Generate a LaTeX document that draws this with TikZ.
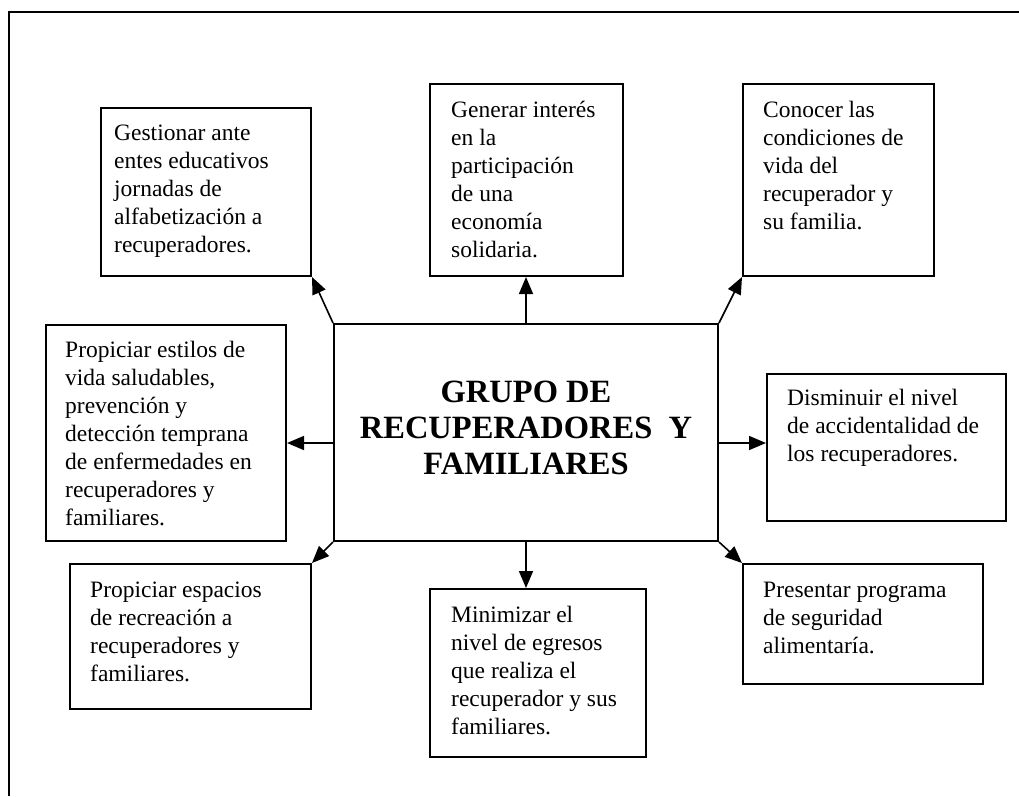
\documentclass[tikz,border=0pt]{standalone}
\usepackage{fontspec}
\setmainfont{Liberation Serif}
\usetikzlibrary{arrows.meta}
\begin{document}
\begin{tikzpicture}[x=1pt,y=-1pt,
  boxnode/.style={draw=black, line width=2pt, rectangle, inner sep=0pt, anchor=north west},
  txtnode/.style={anchor=north west, inner sep=0pt, align=left, font=\fontsize{23.5pt}{28pt}\selectfont},
  titlenode/.style={inner sep=0pt, align=center, font=\fontsize{32.5pt}{36pt}\selectfont\bfseries},
  conn/.style={line width=1.6pt, -{Triangle[length=17pt,width=14pt]}}
]
\useasboundingbox (0,0) rectangle (1019,796);
\draw[line width=2.2pt] (9,796) -- (9,12) -- (1019,12);

% boxes
\node[boxnode, minimum width=210pt, minimum height=168pt] (g) at (100,107) {};
\node[boxnode, minimum width=193pt, minimum height=192pt] (gen) at (429,83) {};
\node[boxnode, minimum width=191pt, minimum height=192pt] (con) at (742,83) {};
\node[boxnode, minimum width=240pt, minimum height=216pt] (est) at (45,324) {};
\node[boxnode, minimum width=384pt, minimum height=217pt] (c) at (333,323) {};
\node[boxnode, minimum width=239pt, minimum height=147pt] (dis) at (766,373) {};
\node[boxnode, minimum width=241pt, minimum height=145pt] (esp) at (69,563) {};
\node[boxnode, minimum width=216pt, minimum height=168pt] (min) at (429,588) {};
\node[boxnode, minimum width=240pt, minimum height=120pt] (pre) at (742,563) {};

% texts
\node[txtnode] (gt) at (114,123) {\rule{0pt}{17pt}Gestionar ante\\entes educativos\\jornadas de\\alfabetización a\\recuperadores.};
\node[txtnode] (gent) at (451,100) {\rule{0pt}{17pt}Generar interés\\en la\\participación\\de una\\economía\\solidaria.};
\node[txtnode] (cont) at (763,100) {\rule{0pt}{17pt}Conocer las\\condiciones de\\vida del\\recuperador y\\su familia.};
\node[txtnode] (estt) at (65,340) {\rule{0pt}{17pt}Propiciar estilos de\\vida saludables,\\prevención y\\detección temprana\\de enfermedades en\\recuperadores y\\familiares.};
\node[txtnode] (dist) at (787,388) {\rule{0pt}{17pt}Disminuir el nivel\\de accidentalidad de\\los recuperadores.};
\node[txtnode] (espt) at (90,580) {\rule{0pt}{17pt}Propiciar espacios\\de recreación a\\recuperadores y\\familiares.};
\node[txtnode] (mint) at (451,605) {\rule{0pt}{17pt}Minimizar el\\nivel de egresos\\que realiza el\\recuperador y sus\\familiares.};
\node[txtnode] (pret) at (763,580) {\rule{0pt}{17pt}Presentar programa\\de seguridad\\alimentaría.};

\node[titlenode] (title) at (526,428) {GRUPO DE\\RECUPERADORES~ Y\\FAMILIARES};

% connector anchor points
\coordinate (ct) at (526,323);
\coordinate (cb) at (526,540);
\coordinate (cl) at (333,443);
\coordinate (cr) at (717,443);

% connectors
\draw[conn] (c.north west) -- (g.south east);
\draw[conn] (ct) -- (ct |- gen.south);
\draw[conn] (c.north east) -- (con.south west);
\draw[conn] (cl) -- (cl -| est.east);
\draw[conn] (cr) -- (cr -| dis.west);
\draw[conn] (c.south west) -- (esp.north east);
\draw[conn] (cb) -- (cb |- min.north);
\draw[conn] (c.south east) -- (pre.north west);
\end{tikzpicture}
\end{document}
